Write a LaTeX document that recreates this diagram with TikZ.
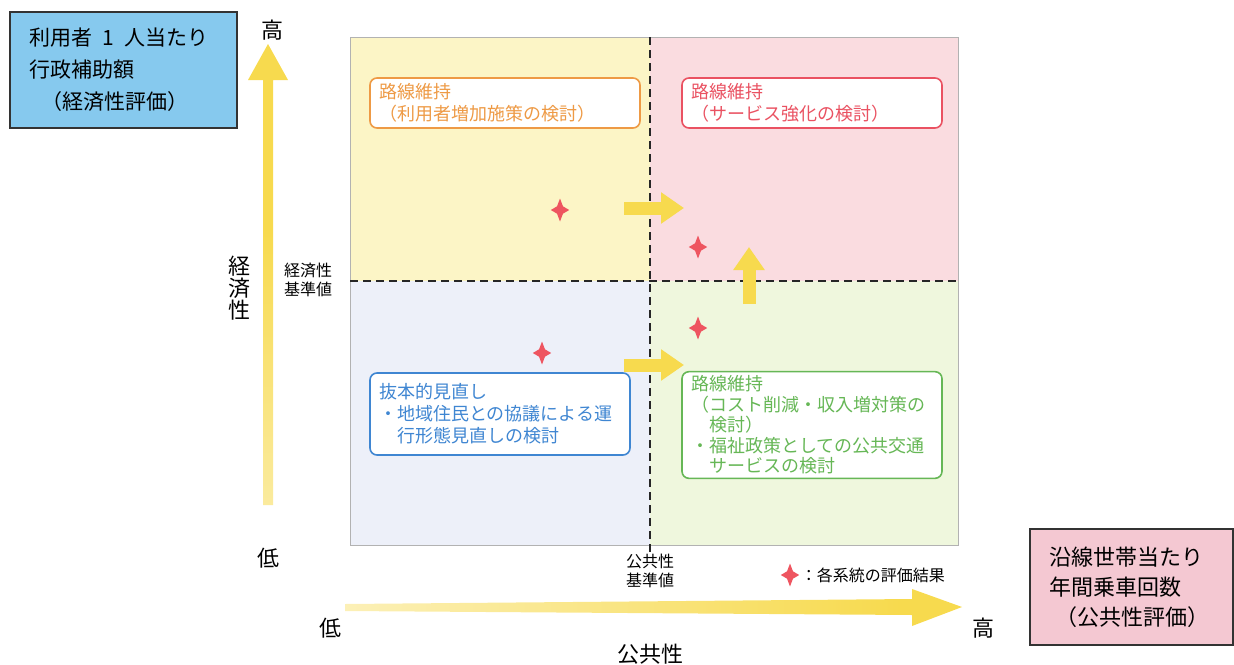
\documentclass[tikz,border=0pt]{standalone}
\usepackage{fontspec}
\setmainfont{Noto Sans CJK JP}
\usetikzlibrary{positioning,arrows.meta,shapes.geometric}
\definecolor{axisYellow}{HTML}{F7DA4E}
\definecolor{markRed}{HTML}{EE5560}
\definecolor{tlFill}{HTML}{FCF5C6}
\definecolor{trFill}{HTML}{FADCE0}
\definecolor{blFill}{HTML}{EDF0F9}
\definecolor{brFill}{HTML}{EFF7DD}
\definecolor{ecoBlue}{HTML}{86C9EE}
\definecolor{pubPink}{HTML}{F4C8D2}
\definecolor{keepOrange}{HTML}{EE9A45}
\definecolor{keepRed}{HTML}{EA5262}
\definecolor{reviewBlue}{HTML}{3F86D2}
\definecolor{keepGreen}{HTML}{66B756}
\pgfdeclareverticalshading{vfade}{100bp}{color(0bp)=(axisYellow!5); color(25bp)=(axisYellow!55); color(55bp)=(axisYellow); color(100bp)=(axisYellow)}
\pgfdeclarehorizontalshading{hfade}{100bp}{color(0bp)=(axisYellow!5); color(35bp)=(axisYellow!55); color(70bp)=(axisYellow); color(100bp)=(axisYellow)}

\begin{document}
\begin{tikzpicture}[x=1pt, y=-1pt,
    axisLbl/.style={font=\fontsize{22}{24}\selectfont, inner sep=0pt},
    refLbl/.style={align=center, font=\fontsize{16}{19}\selectfont, inner sep=0pt},
    titleBox/.style={rectangle, draw=black!80, line width=2pt, text width=#1, minimum height=116pt, align=left, inner xsep=19pt},
    planBox/.style={rectangle, rounded corners=7pt, fill=white, line width=1.6pt, text width=#1, align=left, font=\fontsize{18}{22}\selectfont, inner xsep=9pt, inner ysep=4pt},
    evalMark/.style={star, star points=4, star point ratio=2.2, fill=markRed, inner sep=0pt, minimum size=23pt, xscale=0.8},
    shiftArrow/.style={draw=axisYellow, line width=13pt, -{Triangle[length=23pt, width=30pt]}},
    splitLine/.style={black!85, line width=1.8pt, dash pattern=on 8pt off 5pt}
]
    \useasboundingbox (0,0) rectangle (1234,664);

    % quadrants
    \fill[tlFill] (350,37) rectangle (650,281);
    \fill[trFill] (650,37) rectangle (958,281);
    \fill[blFill] (350,281) rectangle (650,545);
    \fill[brFill] (650,281) rectangle (958,545);
    \draw[black!30] (350,37) rectangle (958,545);
    \draw[splitLine] (650,37) -- (650,552);
    \draw[splitLine] (350,281) -- (958,281);

    % axes
    \shade[shading=vfade] (263,505) -- (263,80) -- (248,80) -- (268,44) -- (288,80) -- (273,80) -- (273,505) -- cycle;
    \shade[shading=hfade] (345,604) -- (912,599) -- (912,589) -- (962,607) -- (912,626) -- (912,615) -- (345,611) -- cycle;

    \node[titleBox=189pt, fill=ecoBlue, font=\fontsize{21}{32}\selectfont] (eco) at (123.5,70) {利用者\hspace{0.5em}1\hspace{0.5em}人当たり\\行政補助額\\\hspace{0.6em}（経済性評価）};
    \node[titleBox=165pt, fill=pubPink, font=\fontsize{22}{30}\selectfont] (pub) at (1131.5,587) {沿線世帯当たり\\年間乗車回数\\\mbox{\hspace{0.3em}（公共性評価）}};

    \node[axisLbl] (yHigh) at (272,30) {高};
    \node[axisLbl] (yLow) at (268,558) {低};
    \node[axisLbl, align=center, font=\fontsize{22}{22}\selectfont] (yName) at (239,288) {経\\済\\性};
    \node[refLbl] (yRef) at (308,280) {経済性\\基準値};
    \node[refLbl] (xRef) at (650,571) {公共性\\基準値};
    \node[axisLbl] (xLow) at (330,628) {低};
    \node[axisLbl] (xHigh) at (983,628) {高};
    \node[axisLbl] (xName) at (650,654) {公共性};

    \node[planBox=252pt, draw=keepOrange, text=keepOrange, minimum height=50pt] (tlPlan) at (505,103) {路線維持\\（利用者増加施策の検討）};
    \node[planBox=242pt, draw=keepRed, text=keepRed, minimum height=50pt] (trPlan) at (812,103) {路線維持\\（サービス強化の検討）};
    \node[planBox=242pt, draw=reviewBlue, text=reviewBlue, minimum height=82pt] (blPlan) at (500,414) {抜本的見直し\\・地域住民との協議による運\\\hspace{1em}行形態見直しの検討};
    \node[planBox=242pt, draw=keepGreen, text=keepGreen, minimum height=106pt, font=\fontsize{18}{20.5}\selectfont] (brPlan) at (812,425) {路線維持\\（コスト削減・収入増対策の\\\hspace{1em}検討）\\・福祉政策としての公共交通\\\hspace{1em}サービスの検討};

    \coordinate (tlOut) at (624,208);
    \coordinate (trIn) at (684,208);
    \coordinate (brOut) at (749,304);
    \coordinate (trUp) at (749,247);
    \coordinate (blOut) at (624,365);
    \coordinate (brIn) at (684,365);
    \draw[shiftArrow] (tlOut) -- (trIn);
    \draw[shiftArrow] (brOut) -- (trUp);
    \draw[shiftArrow] (blOut) -- (brIn);

    \node[evalMark] (mark1) at (560,210) {};
    \node[evalMark] (mark2) at (698,247) {};
    \node[evalMark] (mark3) at (698,328) {};
    \node[evalMark] (mark4) at (542,353) {};

    \node[evalMark] (legMark) at (790,575) {};
    \node[right=1pt of legMark, font=\fontsize{16}{18}\selectfont, inner sep=0pt] (legText) {：各系統の評価結果};
\end{tikzpicture}
\end{document}
